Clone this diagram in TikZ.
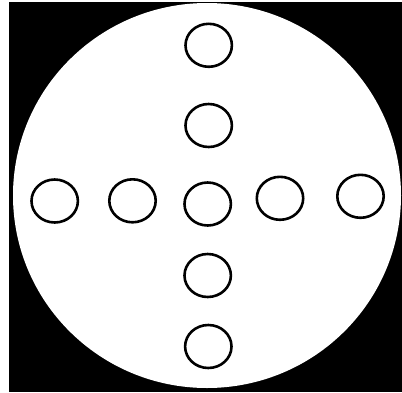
\documentclass[tikz,border=0pt]{standalone}
\begin{document}
\begin{tikzpicture}[x=1pt,y=-1pt,
  hole/.style={draw=black, line width=2.6pt, ellipse, fill=none},
  ]
\useasboundingbox (0,0) rectangle (402,392);
\fill[white] (0,0) rectangle (402,392);
\fill[black] (8.5,2) rectangle (402,392);
\fill[white] (207,195.5) ellipse [x radius=194, y radius=192.5];
\foreach \n/\x/\y in {t2/208.7/45.3, t1/208.7/125.5, c/207.7/204, l2/54.7/201, l1/132.5/200.8, r1/280/198.3, r2/360.5/196.3, b1/207.7/275.5, b2/208.3/346.5}{
  \draw[line width=2.6pt] (\x,\y) ellipse [x radius=23.2, y radius=21.5];
}
\end{tikzpicture}
\end{document}
